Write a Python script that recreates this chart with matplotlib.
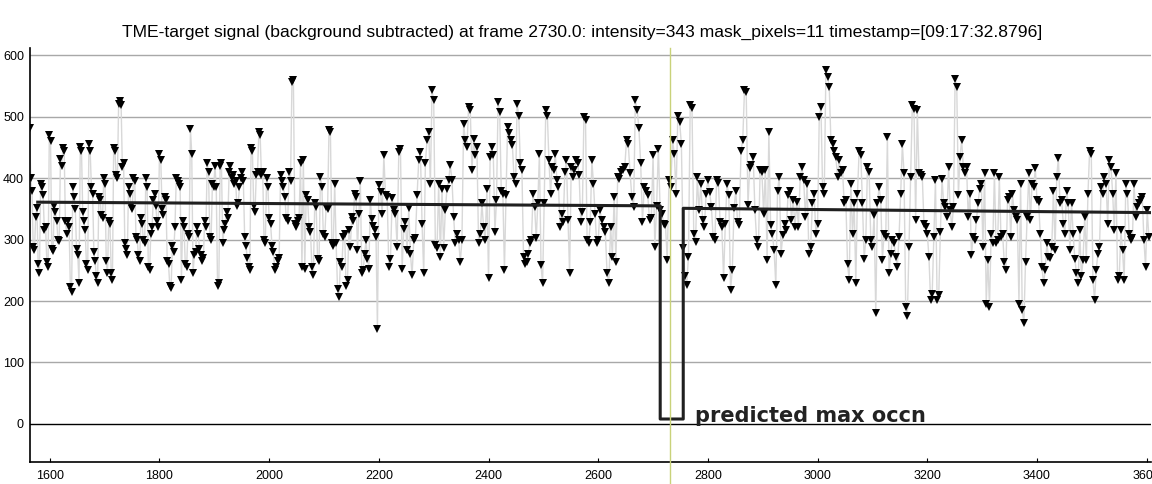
import numpy as np
import matplotlib
matplotlib.use("Agg")
import matplotlib.pyplot as plt

# intensity readings, one list per 200-frame stretch
seg_1563 = [482, 400, 380, 288, 283, 337, 352, 260, 245, 390, 385, 372, 315, 320, 264, 255,
            470, 460, 285, 282, 355, 345, 330, 300, 298, 432, 420, 450, 445, 330, 310, 330,
            320, 223, 215, 386, 370, 350, 285, 275, 230, 451, 445, 345, 330, 315, 260, 250,
            455, 445, 385, 375, 280, 265, 240, 230, 370, 365, 340, 335, 400, 390, 265, 245,
            330, 325, 245, 235, 450, 445, 405, 400, 521, 525, 520, 418, 425, 295, 285, 275,
            385, 375, 355, 350, 400, 395, 305, 300, 275, 265, 335, 325, 300, 295, 400, 385,
            255, 250, 310, 320, 365, 375, 355, 330, 320]
seg_1800 = [440, 430, 350, 340, 370, 365, 265, 260, 225, 222, 290, 280, 320, 400, 395, 390,
            385, 235, 330, 320, 260, 255, 310, 305, 480, 440, 245, 275, 280, 320, 310, 285,
            275, 265, 270, 330, 320, 425, 410, 305, 300, 390, 385, 420, 385, 225, 230, 420,
            425, 295, 315, 325, 345, 335, 410, 420, 400, 405, 390, 395, 355, 360, 385, 400,
            410, 395, 305, 290, 270, 255, 250, 450, 445, 355, 345, 405, 410, 475, 470, 405,
            410, 300, 295, 400, 385]
seg_2000 = [335, 325, 290, 280, 250, 255, 265, 270, 405, 395, 385, 370, 335, 330, 410, 395,
            557, 560, 325, 320, 330, 335, 425, 255,
            429, 253, 372, 364, 321, 313, 256, 242, 359, 353, 269, 265, 402, 386, 310, 305,
            353, 350, 478, 475, 294, 290, 391, 294, 220, 207, 264, 255, 305, 310, 224, 235,
            315, 288, 337, 330, 375, 370, 283, 342, 396, 245, 250, 277, 299, 269, 253, 364,
            334, 323, 315, 305, 155]
seg_2200 = [389, 378, 342, 437, 372, 369, 256, 269, 367, 348, 342, 288, 442, 448, 253, 318,
            329, 283, 351, 277, 242, 299, 302, 372, 429, 442, 326, 245, 424, 462, 475, 391,
            543, 527, 291, 286, 391, 272, 383, 286, 348, 383, 397, 421, 397, 337, 294, 310,
            299, 264, 299, 489, 462, 451, 516, 511, 413, 464, 437, 451, 294, 310, 359, 321,
            299, 383]
seg_2400 = [237, 435, 451, 437, 313, 364, 524, 508, 380, 375, 250, 372, 483, 473, 462, 454,
            402, 391, 521, 502, 424, 413, 272, 261, 264, 277, 294, 299, 375, 353, 302, 359,
            440, 258, 229, 359, 511, 502, 429, 375, 418, 413, 440, 397, 386, 321, 342, 329,
            410, 429, 332, 245, 418, 402,
            413, 429, 424, 405, 329, 345, 500, 495, 299, 294, 329, 429, 391, 342, 294]
seg_2600 = [299, 348, 332, 321, 313, 245, 229, 321, 272, 370, 264, 402, 398, 410, 413, 418,
            462, 455, 408, 370, 353, 527, 511, 481, 424, 329, 386, 380, 372, 332, 335, 437,
            288, 355, 448, 348, 342, 326, 324, 267, 397, 386, 462, 440, 375, 502, 492, 456,
            286, 240, 226, 272, 519, 514, 310, 296, 402, 348, 391, 332, 321, 375]
seg_2800 = [397, 378, 353, 305, 300, 397, 393, 329, 320, 237, 326, 391, 372, 218, 250, 351,
            380, 329, 324, 445, 462, 543, 540, 356, 416, 421, 435, 348, 299, 288, 413, 410,
            342, 413, 267, 475, 324, 310, 283, 226, 380, 402, 277, 307, 326, 315, 372, 380,
            332, 364, 321, 361, 321, 402, 418, 397, 337, 391, 277, 288, 359, 375, 310]
seg_3000 = [326, 500, 516, 386, 375, 576, 565, 549, 462, 456, 445, 435, 402, 429, 408, 413,
            359, 364, 261, 234, 391, 310, 359, 229, 375,
            445, 437, 359, 269, 299, 418, 410, 299, 288, 340, 180, 359, 386, 364, 267, 310,
            305, 467, 245, 277, 299, 295, 272, 256, 305, 375, 456, 408, 191, 175, 288, 402,
            519, 513, 332, 511, 408, 405, 402, 326, 321]
seg_3200 = [310, 272, 202, 212, 305, 397, 202, 210, 313, 399, 359, 353, 337, 418, 348, 321,
            353, 562, 549, 372, 435, 462, 418, 408, 418, 337, 375, 275, 305, 299, 332, 359,
            383, 391, 288, 408, 196, 267, 191, 310, 294, 408, 294, 299, 402, 305, 310, 264,
            250, 364, 370, 305, 375, 348, 337, 332, 196, 391, 185, 164, 264, 337, 408, 332,
            391, 386, 416]
seg_3400 = [364, 361, 310, 256, 229, 250, 294, 272, 270, 288, 380, 283, 402, 433, 359, 364,
            326, 310, 380, 359, 283, 359, 310, 269, 245, 229, 315, 240, 267, 337, 267, 375,
            445, 440, 234, 202, 250, 277, 288, 386, 375, 402, 391, 326, 429, 418, 375, 315,
            408, 234, 240, 315, 283, 234, 391, 375, 310, 299, 302, 391, 337, 353, 359, 364,
            370, 299, 256, 348, 305]

segments = [(1563, 1800, seg_1563), (1800, 2000, seg_1800), (2000, 2200, seg_2000),
            (2200, 2400, seg_2200), (2400, 2600, seg_2400), (2600, 2800, seg_2600),
            (2800, 3000, seg_2800), (3000, 3200, seg_3000), (3200, 3400, seg_3200),
            (3400, 3607, seg_3400)]

# predicted occupancy (step fit)
fit_frames = [1578, 2713, 2713, 2755, 2755, 3607]
fit_values = [361, 355, 8, 8, 351, 344]

current_frame = 2730

frames = []
values = []
for a, b, seg in segments:
    frames.extend(np.linspace(a, b, len(seg), endpoint=False))
    values.extend(seg)

plt.rcParams['font.family'] = ['Liberation Sans', 'DejaVu Sans']

fig = plt.figure(figsize=(11.52, 4.84), dpi=100)
ax = fig.add_axes([29.5 / 1152, 22 / 484, 1121 / 1152, 414 / 484])

for y in range(100, 700, 100):
    ax.axhline(y, color='#a8a8a8', lw=1, zorder=0)
ax.axhline(0, color='black', lw=1, zorder=0)

ax.plot(frames, values, color='#d8d8d8', lw=1, zorder=1)
ax.plot(frames, values, 'v', color='black', ms=6.2, mew=0, zorder=2)
ax.plot(fit_frames, fit_values, color='#202020', lw=2.2, zorder=3)

ax.axvline(current_frame, ymin=-0.055, ymax=1, color='#c9d27a', lw=1, clip_on=False, zorder=4)

ax.text(2777, 3, 'predicted max occn', fontsize=15, fontweight='bold',
        family=['DejaVu Sans'], color='#222222', va='baseline')

ax.set_xlim(1563, 3607)
ax.set_ylim(-62, 612)
ax.set_xticks(range(1600, 3601, 200))
ax.set_yticks(range(0, 601, 100))
ax.tick_params(axis='x', direction='in', length=3, labelsize=9, pad=6)
ax.tick_params(axis='y', length=0, labelsize=9, pad=4)
for s in ['top', 'right']:
    ax.spines[s].set_visible(False)
for s in ['left', 'bottom']:
    ax.spines[s].set_linewidth(1.2)

fig.text(0.505, 1 - 32 / 484, 'TME-target signal (background subtracted) at frame 2730.0: '
         'intensity=343 mask_pixels=11 timestamp=[09:17:32.8796]',
         ha='center', va='center', fontsize=12.6)

fig.savefig('out.png', dpi=100)
